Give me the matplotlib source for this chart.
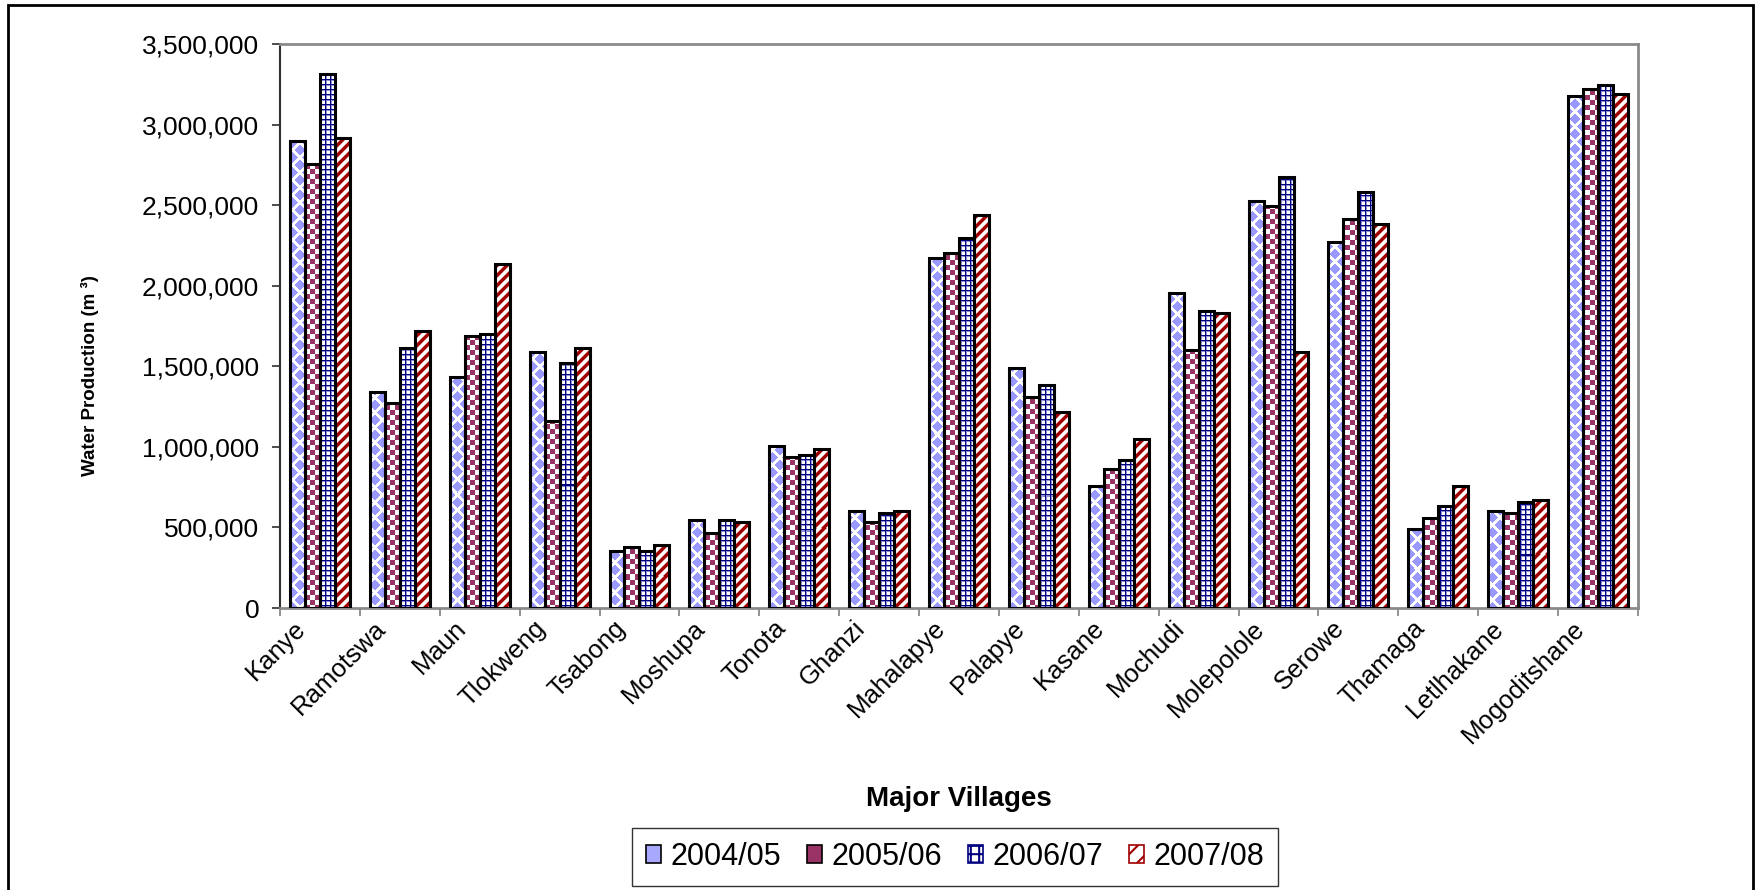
import numpy as np
import matplotlib
matplotlib.use("Agg")
import matplotlib.pyplot as plt
from matplotlib.patches import Rectangle, Patch
from matplotlib.ticker import FuncFormatter, FixedLocator

villages = ["Kanye", "Ramotswa", "Maun", "Tlokweng", "Tsabong", "Moshupa", "Tonota",
            "Ghanzi", "Mahalapye", "Palapye", "Kasane", "Mochudi", "Molepolole",
            "Serowe", "Thamaga", "Letlhakane", "Mogoditshane"]
years = ["2004/05", "2005/06", "2006/07", "2007/08"]

prod_2004_05 = [2898000, 1339000, 1436000, 1589000, 351000, 545000, 1005000, 601000,
                2174000, 1492000, 757000, 1955000, 2526000, 2273000, 491000, 601000, 3178000]
prod_2005_06 = [2758000, 1271000, 1686000, 1161000, 380000, 464000, 935000, 531000,
                2203000, 1310000, 865000, 1603000, 2496000, 2411000, 558000, 588000, 3220000]
prod_2006_07 = [3315000, 1616000, 1702000, 1522000, 351000, 545000, 951000, 588000,
                2295000, 1384000, 919000, 1842000, 2677000, 2580000, 631000, 658000, 3245000]
prod_2007_08 = [2914000, 1716000, 2133000, 1616000, 394000, 531000, 989000, 601000,
                2438000, 1215000, 1046000, 1828000, 1589000, 2384000, 755000, 671000, 3191000]

series = [prod_2004_05, prod_2005_06, prod_2006_07, prod_2007_08]
patterns = ["diamond", "checker", "grid", "stripe"]

W_PX, H_PX, DPI = 1765, 890, 100
plt.rcParams["font.family"] = ["Liberation Sans", "DejaVu Sans"]
plt.rcParams["hatch.linewidth"] = 1.5


def texture(kind, x0, y0, w, h):
    """RGB fill pattern aligned to the figure pixel grid (x0, y0 = top-left)."""
    yy, xx = np.mgrid[0:h, 0:w]
    X = xx + x0 + 0.5
    Y = yy + y0 + 0.5
    img = np.ones((h, w, 3))
    if kind == "diamond":
        p, r = 15.0, 5.4
        a = (X + Y) / p
        b = (X - Y) / p
        d = np.maximum(np.abs(a - np.round(a)), np.abs(b - np.round(b))) * p
        img[d <= r] = np.array([0x99, 0x99, 0xFF]) / 255
    elif kind == "checker":
        c = 5
        m = ((np.floor(X / c) + np.floor(Y / c)) % 2) == 0
        img[m] = np.array([0x99, 0x33, 0x66]) / 255
    elif kind == "grid":
        Xi = np.floor(X).astype(int)
        Yi = np.floor(Y).astype(int)
        soft = ((Xi % 5) == 1) | ((Yi % 5) == 1)
        img[soft] = np.array([0x90, 0x90, 0xD0]) / 255
        hard = ((Xi % 5) == 0) | ((Yi % 5) == 0)
        img[hard] = np.array([0x00, 0x00, 0x80]) / 255
    elif kind == "stripe":
        s = (np.floor(X) + np.floor(Y)) % 10
        img[s < 4] = np.array([0xA0, 0x00, 0x00]) / 255
        img[(s == 4) | (s == 9)] = np.array([0xD8, 0x90, 0x90]) / 255
    return img


fig = plt.figure(figsize=(W_PX / DPI, H_PX / DPI), dpi=DPI)
ax_l, ax_r, ax_t, ax_b = 280, 1638, 44, 608
ax = fig.add_axes([ax_l / W_PX, 1 - ax_b / H_PX, (ax_r - ax_l) / W_PX, (ax_b - ax_t) / H_PX])

n = len(villages)
x = np.arange(n)
bar_w = 0.1875
ax.set_xlim(-0.5, n - 0.5)
ax.set_ylim(0, 3500000)

for k, (vals, kind) in enumerate(zip(series, patterns)):
    offs = (k - 1.5) * bar_w
    bars = ax.bar(x + offs, vals, width=bar_w, facecolor="none", edgecolor="black",
                  linewidth=2.2, zorder=3)
    for rect in bars:
        left = rect.get_x()
        right = left + rect.get_width()
        top = rect.get_height()
        (px0, py0), (px1, py1) = ax.transData.transform([(left, 0), (right, top)])
        w = max(int(round(px1 - px0)), 1)
        h = max(int(round(py1 - py0)), 1)
        img = texture(kind, int(round(px0)), int(round(H_PX - py1)), w, h)
        im = ax.imshow(img, extent=(left, right, 0, top), origin="upper",
                       interpolation="nearest", aspect="auto", zorder=2)
        im.set_clip_path(rect)

ax.set_xlim(-0.5, n - 0.5)
ax.set_ylim(0, 3500000)

# y axis
ax.yaxis.set_major_locator(FixedLocator(np.arange(0, 3500001, 500000)))
ax.yaxis.set_major_formatter(FuncFormatter(lambda v, _: f"{int(v):,}"))
ax.tick_params(axis="y", direction="out", length=6, width=1.2, color="#303030",
               labelsize=19, pad=9)

# x axis: labels ending just left of each category centre, tick marks between categories
ax.set_xticks(x - 0.22)
ax.set_xticklabels(villages, rotation=45, ha="right", va="center", rotation_mode="anchor",
                   fontsize=18.5)
ax.tick_params(axis="x", which="major", length=0, pad=12)
ax.set_xticks(np.arange(-0.5, n), minor=True)
ax.tick_params(axis="x", which="minor", direction="out", length=6, width=1.2,
               color="#808080")

ax.spines["left"].set_color("#303030")
ax.spines["left"].set_linewidth(1.5)
for side in ["top", "right", "bottom"]:
    ax.spines[side].set_color("#8a8a8a")
    ax.spines[side].set_linewidth(2)

ax.set_ylabel("Water Production (m \u00b3)", fontweight="bold", fontsize=13.5,
              family=["Liberation Sans Narrow", "Liberation Sans", "DejaVu Sans"])
ax.yaxis.set_label_coords((99 - ax_l) / (ax_r - ax_l), (ax_b - 376) / (ax_b - ax_t))

ax.set_xlabel("Major Villages", fontsize=20, fontweight="bold")
ax.xaxis.set_label_coords(0.5, -(786 - ax_b) / (ax_b - ax_t))

handles = [
    Patch(facecolor="#a8a8ff", edgecolor="black", linewidth=1.2),
    Patch(facecolor="#993366", edgecolor="black", linewidth=1.2),
    Patch(facecolor="white", edgecolor="#000080", hatch="++", linewidth=1.2),
    Patch(facecolor="white", edgecolor="#a00000", hatch="//", linewidth=1.2),
]
leg = fig.legend(handles, years, loc="center", bbox_to_anchor=(955 / W_PX, 1 - 857 / H_PX),
                 ncol=4, fontsize=22, frameon=True, fancybox=False, shadow=False,
                 handlelength=0.5, handleheight=0.5, handletextpad=0.3,
                 columnspacing=0.85, borderpad=0.45)
leg.get_frame().set_edgecolor("black")
leg.get_frame().set_linewidth(1.0)

# outer chart border
fig.add_artist(Rectangle((8 / W_PX, -0.05), (1753 - 8) / W_PX, (1 - 5 / H_PX) + 0.05,
                         transform=fig.transFigure, fill=False, edgecolor="black",
                         linewidth=2))

fig.savefig("out.png", dpi=DPI)
